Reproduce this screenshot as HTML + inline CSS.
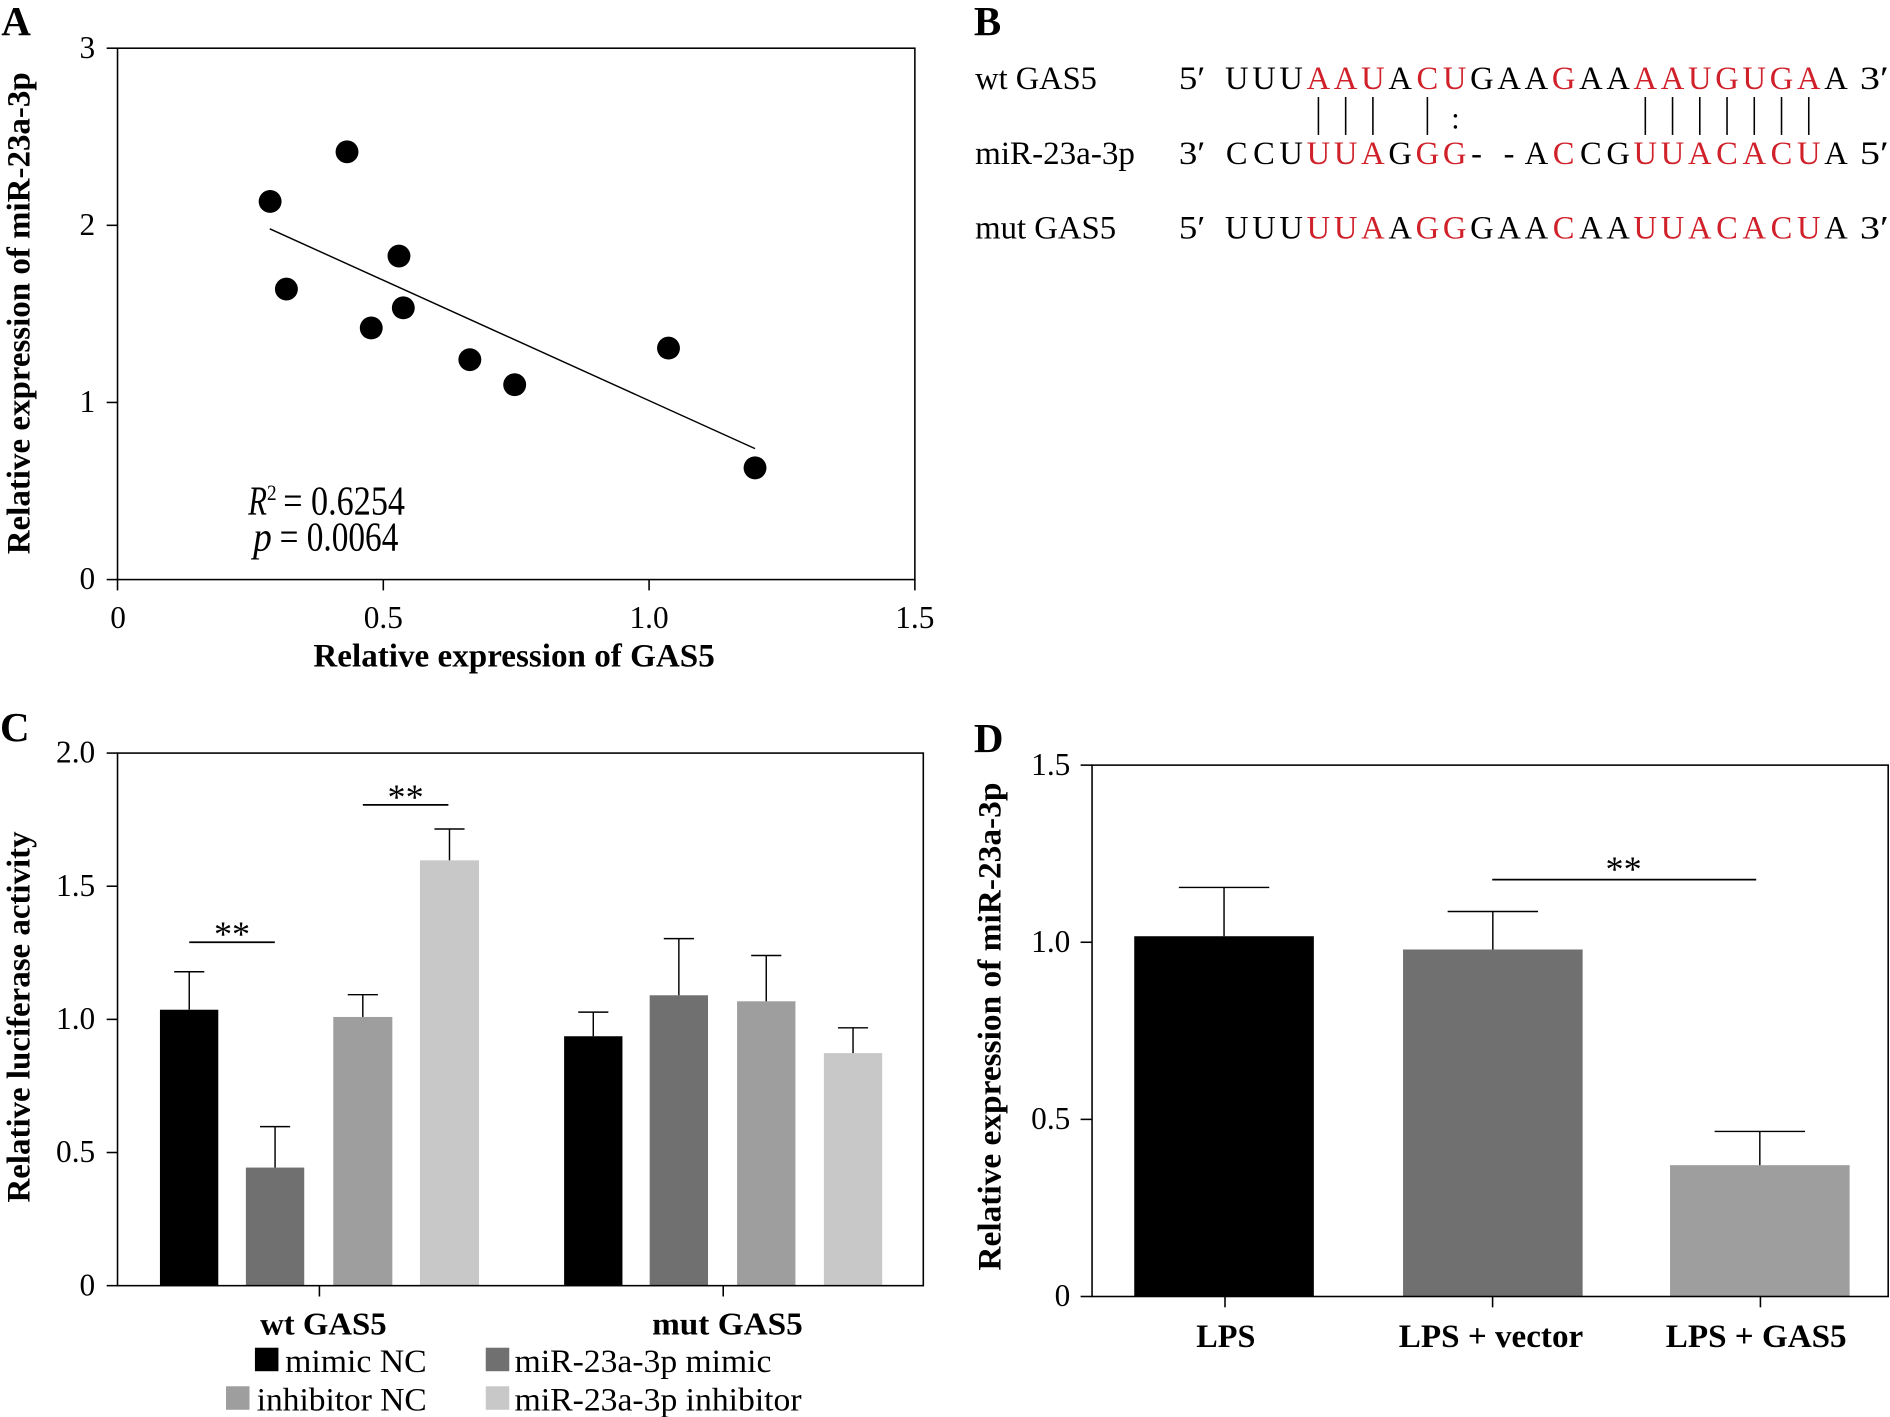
<!DOCTYPE html>
<html><head><meta charset="utf-8"><style>
html,body{margin:0;padding:0;background:#fff;}
svg{display:block;}
text{font-family:"Liberation Serif","Times New Roman",serif;fill:#000;}
.b{font-weight:bold;}
.r{fill:#d0202a;}
</style></head><body>
<svg width="1890" height="1417" viewBox="0 0 1568 1176" preserveAspectRatio="none" xmlns="http://www.w3.org/2000/svg">
<rect x="0" y="0" width="1568" height="1176" fill="#fff"/>

<!-- ================= Panel A ================= -->
<text x="1" y="29" class="b" font-size="34">A</text>
<g stroke="#000" stroke-width="1.3" fill="none">
<rect x="97.5" y="40" width="661.5" height="441"/>
<line x1="88.5" y1="40" x2="97.5" y2="40"/>
<line x1="88.5" y1="187" x2="97.5" y2="187"/>
<line x1="88.5" y1="334" x2="97.5" y2="334"/>
<line x1="88.5" y1="481" x2="97.5" y2="481"/>
<line x1="97.5" y1="481" x2="97.5" y2="490"/>
<line x1="318" y1="481" x2="318" y2="490"/>
<line x1="538.5" y1="481" x2="538.5" y2="490"/>
<line x1="759" y1="481" x2="759" y2="490"/>
<line x1="223.8" y1="189.9" x2="626.4" y2="372.3" stroke-width="1.2"/>
</g>
<g font-size="26" text-anchor="end">
<text x="79" y="48">3</text>
<text x="79" y="195">2</text>
<text x="79" y="342">1</text>
<text x="79" y="489">0</text>
</g>
<g font-size="26" text-anchor="middle">
<text x="98" y="521">0</text>
<text x="318" y="521">0.5</text>
<text x="538.5" y="521">1.0</text>
<text x="759" y="521">1.5</text>
</g>
<text x="426.5" y="553" class="b" font-size="27" text-anchor="middle" textLength="333" lengthAdjust="spacingAndGlyphs">Relative expression of GAS5</text>
<text transform="translate(24.5,260) rotate(-90)" class="b" font-size="27" text-anchor="middle" textLength="400" lengthAdjust="spacingAndGlyphs">Relative expression of miR-23a-3p</text>
<g fill="#000">
<circle cx="224.1" cy="167.2" r="9.5"/>
<circle cx="287.9" cy="126" r="9.5"/>
<circle cx="237.6" cy="239.9" r="9.5"/>
<circle cx="331" cy="212.5" r="9.5"/>
<circle cx="308" cy="272.2" r="9.5"/>
<circle cx="334.6" cy="255.5" r="9.5"/>
<circle cx="389.8" cy="298.5" r="9.5"/>
<circle cx="427" cy="319.3" r="9.5"/>
<circle cx="554.6" cy="288.9" r="9.5"/>
<circle cx="626.4" cy="388.3" r="9.5"/>
</g>
<text x="206" y="427" font-size="34" font-style="italic" textLength="15.5" lengthAdjust="spacingAndGlyphs">R</text>
<text x="221.5" y="415" font-size="18" textLength="8" lengthAdjust="spacingAndGlyphs">2</text>
<text x="235" y="427" font-size="34" textLength="101" lengthAdjust="spacingAndGlyphs">= 0.6254</text>
<text x="210" y="457" font-size="34" font-style="italic" textLength="15.5" lengthAdjust="spacingAndGlyphs">p</text>
<text x="232" y="457" font-size="34" textLength="98.5" lengthAdjust="spacingAndGlyphs">= 0.0064</text>

<!-- ================= Panel B ================= -->
<text x="808" y="29" class="b" font-size="34">B</text>
<g font-size="27">
<text x="809" y="74" textLength="101" lengthAdjust="spacingAndGlyphs">wt GAS5</text>
<text x="809" y="136" textLength="132.6" lengthAdjust="spacingAndGlyphs">miR-23a-3p</text>
<text x="809" y="198" textLength="117" lengthAdjust="spacingAndGlyphs">mut GAS5</text>
<text x="978" y="74" textLength="22" lengthAdjust="spacingAndGlyphs">5′</text>
<text x="978" y="136" textLength="22" lengthAdjust="spacingAndGlyphs">3′</text>
<text x="978" y="198" textLength="22" lengthAdjust="spacingAndGlyphs">5′</text>
<text x="1543" y="74" textLength="24" lengthAdjust="spacingAndGlyphs">3′</text>
<text x="1543" y="136" textLength="24" lengthAdjust="spacingAndGlyphs">5′</text>
<text x="1543" y="198" textLength="24" lengthAdjust="spacingAndGlyphs">3′</text>
</g>
<!-- wt row: UUUAAUACUGAAGAAAAUGUGAA -->
<g font-size="27" text-anchor="middle">
<text x="1026" y="74">U</text>
<text x="1048.6" y="74">U</text>
<text x="1071.2" y="74">U</text>
<text x="1093.8" y="74" class="r">A</text>
<text x="1116.4" y="74" class="r">A</text>
<text x="1139" y="74" class="r">U</text>
<text x="1161.6" y="74">A</text>
<text x="1184.2" y="74" class="r">C</text>
<text x="1206.8" y="74" class="r">U</text>
<text x="1229.4" y="74">G</text>
<text x="1252" y="74">A</text>
<text x="1274.6" y="74">A</text>
<text x="1297.2" y="74" class="r">G</text>
<text x="1319.8" y="74">A</text>
<text x="1342.4" y="74">A</text>
<text x="1365" y="74" class="r">A</text>
<text x="1387.6" y="74" class="r">A</text>
<text x="1410.2" y="74" class="r">U</text>
<text x="1432.8" y="74" class="r">G</text>
<text x="1455.4" y="74" class="r">U</text>
<text x="1478" y="74" class="r">G</text>
<text x="1500.6" y="74" class="r">A</text>
<text x="1523.2" y="74">A</text>
</g>
<!-- miR row -->
<g font-size="27" text-anchor="middle">
<text x="1026" y="136">C</text>
<text x="1048.6" y="136">C</text>
<text x="1071.2" y="136">U</text>
<text x="1093.8" y="136" class="r">U</text>
<text x="1116.4" y="136" class="r">U</text>
<text x="1139" y="136" class="r">A</text>
<text x="1161.6" y="136">G</text>
<text x="1184.2" y="136" class="r">G</text>
<text x="1206.8" y="136" class="r">G</text>
<text x="1225" y="136">-</text>
<text x="1252" y="136">-</text>
<text x="1274.6" y="136">A</text>
<text x="1297.2" y="136" class="r">C</text>
<text x="1319.8" y="136">C</text>
<text x="1342.4" y="136">G</text>
<text x="1365" y="136" class="r">U</text>
<text x="1387.6" y="136" class="r">U</text>
<text x="1410.2" y="136" class="r">A</text>
<text x="1432.8" y="136" class="r">C</text>
<text x="1455.4" y="136" class="r">A</text>
<text x="1478" y="136" class="r">C</text>
<text x="1500.6" y="136" class="r">U</text>
<text x="1523.2" y="136">A</text>
</g>
<!-- mut row -->
<g font-size="27" text-anchor="middle">
<text x="1026" y="198">U</text>
<text x="1048.6" y="198">U</text>
<text x="1071.2" y="198">U</text>
<text x="1093.8" y="198" class="r">U</text>
<text x="1116.4" y="198" class="r">U</text>
<text x="1139" y="198" class="r">A</text>
<text x="1161.6" y="198">A</text>
<text x="1184.2" y="198" class="r">G</text>
<text x="1206.8" y="198" class="r">G</text>
<text x="1229.4" y="198">G</text>
<text x="1252" y="198">A</text>
<text x="1274.6" y="198">A</text>
<text x="1297.2" y="198" class="r">C</text>
<text x="1319.8" y="198">A</text>
<text x="1342.4" y="198">A</text>
<text x="1365" y="198" class="r">U</text>
<text x="1387.6" y="198" class="r">U</text>
<text x="1410.2" y="198" class="r">A</text>
<text x="1432.8" y="198" class="r">C</text>
<text x="1455.4" y="198" class="r">A</text>
<text x="1478" y="198" class="r">C</text>
<text x="1500.6" y="198" class="r">U</text>
<text x="1523.2" y="198">A</text>
</g>
<g stroke="#000" stroke-width="1.3">
<line x1="1093.8" y1="80.5" x2="1093.8" y2="112"/>
<line x1="1116.4" y1="80.5" x2="1116.4" y2="112"/>
<line x1="1139" y1="80.5" x2="1139" y2="112"/>
<line x1="1184.2" y1="80.5" x2="1184.2" y2="112"/>
<line x1="1365" y1="80.5" x2="1365" y2="112"/>
<line x1="1387.6" y1="80.5" x2="1387.6" y2="112"/>
<line x1="1410.2" y1="80.5" x2="1410.2" y2="112"/>
<line x1="1432.8" y1="80.5" x2="1432.8" y2="112"/>
<line x1="1455.4" y1="80.5" x2="1455.4" y2="112"/>
<line x1="1478" y1="80.5" x2="1478" y2="112"/>
<line x1="1500.6" y1="80.5" x2="1500.6" y2="112"/>
</g>
<text x="1207.5" y="106.5" font-size="25" text-anchor="middle">:</text>

<!-- ================= Panel C ================= -->
<text x="0" y="615" class="b" font-size="34">C</text>
<rect x="132.7" y="838" width="48.4" height="229" fill="#000"/>
<rect x="204" y="969" width="48.4" height="98" fill="#707070"/>
<rect x="276.5" y="844" width="49" height="223" fill="#9e9e9e"/>
<rect x="348.4" y="714" width="49" height="353" fill="#c8c8c8"/>
<rect x="468" y="860" width="48.4" height="207" fill="#000"/>
<rect x="539" y="826" width="48.4" height="241" fill="#707070"/>
<rect x="611.5" y="831" width="48.4" height="236" fill="#9e9e9e"/>
<rect x="683.5" y="874" width="48.4" height="193" fill="#c8c8c8"/>
<g stroke="#000" stroke-width="1.2" fill="none">
<line x1="157" y1="838" x2="157" y2="806.5"/><line x1="144.5" y1="806.5" x2="169.5" y2="806.5"/>
<line x1="228.2" y1="969" x2="228.2" y2="935"/><line x1="215.7" y1="935" x2="240.7" y2="935"/>
<line x1="301" y1="844" x2="301" y2="825.5"/><line x1="288.5" y1="825.5" x2="313.5" y2="825.5"/>
<line x1="372.9" y1="714" x2="372.9" y2="688"/><line x1="360.4" y1="688" x2="385.4" y2="688"/>
<line x1="492.2" y1="860" x2="492.2" y2="840"/><line x1="479.7" y1="840" x2="504.7" y2="840"/>
<line x1="563.2" y1="826" x2="563.2" y2="779"/><line x1="550.7" y1="779" x2="575.7" y2="779"/>
<line x1="635.7" y1="831" x2="635.7" y2="793"/><line x1="623.2" y1="793" x2="648.2" y2="793"/>
<line x1="707.7" y1="874" x2="707.7" y2="853"/><line x1="695.2" y1="853" x2="720.2" y2="853"/>
</g>
<g stroke="#000" stroke-width="1.3" fill="none">
<rect x="97.5" y="625" width="668.5" height="442"/>
<line x1="88.5" y1="625" x2="97.5" y2="625"/>
<line x1="88.5" y1="735.5" x2="97.5" y2="735.5"/>
<line x1="88.5" y1="846" x2="97.5" y2="846"/>
<line x1="88.5" y1="956.5" x2="97.5" y2="956.5"/>
<line x1="88.5" y1="1067" x2="97.5" y2="1067"/>
<line x1="265" y1="1067" x2="265" y2="1076"/>
<line x1="600" y1="1067" x2="600" y2="1076"/>
<line x1="157" y1="782" x2="228" y2="782" stroke-width="1.5"/>
<line x1="301" y1="668" x2="372" y2="668" stroke-width="1.5"/>
</g>
<g font-size="26" text-anchor="end">
<text x="79" y="633">2.0</text>
<text x="79" y="743.5">1.5</text>
<text x="79" y="854">1.0</text>
<text x="79" y="964.5">0.5</text>
<text x="79" y="1075">0</text>
</g>
<text x="192.5" y="785" font-size="30" text-anchor="middle">**</text>
<text x="336.5" y="671.5" font-size="30" text-anchor="middle">**</text>
<text transform="translate(24.5,844) rotate(-90)" class="b" font-size="27" text-anchor="middle" textLength="308" lengthAdjust="spacingAndGlyphs">Relative luciferase activity</text>
<text x="268.3" y="1107.5" class="b" font-size="26" text-anchor="middle" textLength="105" lengthAdjust="spacingAndGlyphs">wt GAS5</text>
<text x="603.5" y="1107.5" class="b" font-size="26" text-anchor="middle" textLength="125" lengthAdjust="spacingAndGlyphs">mut GAS5</text>
<rect x="211.5" y="1118.5" width="19.5" height="19.5" fill="#000"/>
<rect x="403" y="1118.5" width="19.5" height="19.5" fill="#707070"/>
<rect x="187.5" y="1150.5" width="19.5" height="19.5" fill="#9e9e9e"/>
<rect x="403" y="1150.5" width="19.5" height="19.5" fill="#c8c8c8"/>
<g font-size="27">
<text x="236.5" y="1138.5" textLength="117.5" lengthAdjust="spacingAndGlyphs">mimic NC</text>
<text x="427" y="1138.5" textLength="213" lengthAdjust="spacingAndGlyphs">miR-23a-3p mimic</text>
<text x="213" y="1170.5" textLength="141" lengthAdjust="spacingAndGlyphs">inhibitor NC</text>
<text x="427" y="1170.5" textLength="238" lengthAdjust="spacingAndGlyphs">miR-23a-3p inhibitor</text>
</g>

<!-- ================= Panel D ================= -->
<text x="808" y="624" class="b" font-size="34">D</text>
<rect x="941" y="777" width="149" height="299" fill="#000"/>
<rect x="1164" y="788" width="149" height="288" fill="#707070"/>
<rect x="1385.5" y="967" width="149" height="109" fill="#9e9e9e"/>
<g stroke="#000" stroke-width="1.2" fill="none">
<line x1="1015.5" y1="777" x2="1015.5" y2="736.5"/><line x1="978" y1="736.5" x2="1053" y2="736.5"/>
<line x1="1238.5" y1="788" x2="1238.5" y2="756.5"/><line x1="1201" y1="756.5" x2="1276" y2="756.5"/>
<line x1="1460" y1="967" x2="1460" y2="939"/><line x1="1422.5" y1="939" x2="1497.5" y2="939"/>
</g>
<g stroke="#000" stroke-width="1.3" fill="none">
<rect x="906" y="635" width="660.5" height="441"/>
<line x1="896.5" y1="635" x2="906" y2="635"/>
<line x1="896.5" y1="782" x2="906" y2="782"/>
<line x1="896.5" y1="929" x2="906" y2="929"/>
<line x1="896.5" y1="1076" x2="906" y2="1076"/>
<line x1="1016.3" y1="1076" x2="1016.3" y2="1085"/>
<line x1="1238.3" y1="1076" x2="1238.3" y2="1085"/>
<line x1="1460.5" y1="1076" x2="1460.5" y2="1085"/>
<line x1="1238" y1="730" x2="1457" y2="730" stroke-width="1.5"/>
</g>
<g font-size="26" text-anchor="end">
<text x="888" y="643">1.5</text>
<text x="888" y="790">1.0</text>
<text x="888" y="937">0.5</text>
<text x="888" y="1084">0</text>
</g>
<text x="1347" y="731" font-size="30" text-anchor="middle">**</text>
<text transform="translate(830,852) rotate(-90)" class="b" font-size="27" text-anchor="middle" textLength="405" lengthAdjust="spacingAndGlyphs">Relative expression of miR-23a-3p</text>
<g class="b" font-size="27" text-anchor="middle">
<text x="1017" y="1118" textLength="49" lengthAdjust="spacingAndGlyphs">LPS</text>
<text x="1237" y="1118" textLength="153" lengthAdjust="spacingAndGlyphs">LPS + vector</text>
<text x="1457" y="1118" textLength="150" lengthAdjust="spacingAndGlyphs">LPS + GAS5</text>
</g>
</svg>
</body></html>
